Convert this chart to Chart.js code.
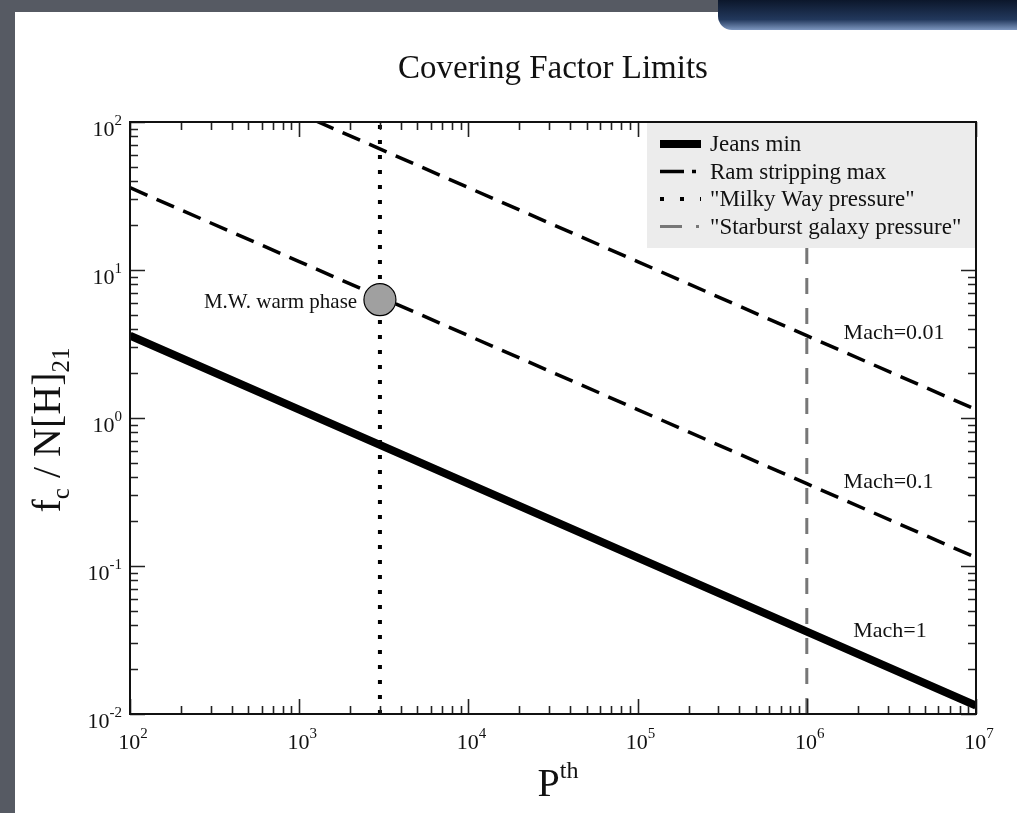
<!DOCTYPE html>
<html lang="en">
<head>
<meta charset="UTF-8">
<title>Covering Factor Limits</title>
<script src="https://cdn.jsdelivr.net/npm/chart.js"></script>
<style>
    html, body { margin: 0; padding: 0; }
    body {
        width: 1017px;
        height: 813px;
        overflow: hidden;
        position: relative;
        background: #565a63;
    }
    .sheet {
        position: absolute;
        left: 15px; top: 12px; right: 0; bottom: 0;
        background: #fff;
    }
    .badge {
        position: absolute;
        left: 718px; top: 0;
        width: 299px; height: 30px;
        border-bottom-left-radius: 14px;
        background: linear-gradient(#0c172b, #22385c 65%, #7d97c0);
    }
    #chart { position: absolute; left: 0; top: 0; }
</style>
</head>
<body>
<div class="sheet"></div>
<div class="badge"></div>
<canvas id="chart" width="1017" height="813"></canvas>

<script>
    // values
    const pressure = [1e2, 1e3, 1e4, 1e5, 1e6, 1e7];
    const jeansMin = [3.6, 1.14, 0.36, 0.114, 0.036, 0.0114];
    const ramMach01 = [36, 11.4, 3.6, 1.14, 0.36, 0.114];
    const ramMach001 = [360, 114, 36, 11.4, 3.6, 1.14];
    const milkyWayP = 3e3;
    const starburstP = 1e6;
    const warmPhase = { x: 3e3, y: 6.3 };
    const xRange = [1e2, 1e7];
    const yRange = [1e-2, 1e2];
    const xExponents = [2, 3, 4, 5, 6, 7];
    const yExponents = [-2, -1, 0, 1, 2];

    const SERIF = "'Liberation Serif', 'Times New Roman', serif";

    function pts(xs, ys) {
        return xs.map((x, i) => ({ x: x, y: ys[i] }));
    }

    // text with sub/superscripts, pieces: [text, size, dy]
    function richText(ctx, pieces, x, y, align) {
        let w = 0;
        pieces.forEach(p => { ctx.font = p[1] + 'px ' + SERIF; w += ctx.measureText(p[0]).width; });
        let cx = align === 'center' ? x - w / 2 : align === 'right' ? x - w : x;
        ctx.textAlign = 'left';
        ctx.textBaseline = 'alphabetic';
        pieces.forEach(p => {
            ctx.font = p[1] + 'px ' + SERIF;
            ctx.fillText(p[0], cx, y + (p[2] || 0));
            cx += ctx.measureText(p[0]).width;
        });
    }

    const legendItems = [
        { text: 'Jeans min', color: '#000', width: 8, dash: [] },
        { text: 'Ram stripping max', color: '#000', width: 3.5, dash: [24, 8, 4, 30] },
        { text: '"Milky Way pressure"', color: '#000', width: 4, dash: [4, 16] },
        { text: '"Starburst galaxy pressure"', color: '#777', width: 3, dash: [22, 14, 3, 30] }
    ];

    const annotations = [
        { text: 'M.W. warm phase', x: 2.2e3, y: 6.0, align: 'right', size: 21 },
        { text: 'Mach=0.01', x: 1.65e6, y: 3.75, align: 'left', size: 22 },
        { text: 'Mach=0.1', x: 1.65e6, y: 0.37, align: 'left', size: 22 },
        { text: 'Mach=1', x: 1.88e6, y: 0.036, align: 'left', size: 22 }
    ];

    const framePlugin = {
        id: 'frame',
        afterDatasetsDraw(chart) {
            const ctx = chart.ctx;
            const a = chart.chartArea;
            const xs = chart.scales.x, ys = chart.scales.y;
            ctx.save();

            // annotations
            ctx.fillStyle = '#111';
            annotations.forEach(n => {
                ctx.font = n.size + 'px ' + SERIF;
                ctx.textAlign = n.align;
                ctx.textBaseline = 'middle';
                ctx.fillText(n.text, xs.getPixelForValue(n.x), ys.getPixelForValue(n.y));
            });

            // inward ticks on all four sides
            ctx.strokeStyle = '#222';
            ctx.lineWidth = 1.6;
            ctx.setLineDash([]);
            ctx.beginPath();
            xExponents.forEach(e => {
                for (let m = 1; m < 10; m++) {
                    const v = m * Math.pow(10, e);
                    if (v > xRange[1]) break;
                    const px = Math.round(xs.getPixelForValue(v)) + 0.5;
                    const len = m === 1 ? 15 : 8;
                    ctx.moveTo(px, a.bottom); ctx.lineTo(px, a.bottom - len);
                    ctx.moveTo(px, a.top); ctx.lineTo(px, a.top + len);
                }
            });
            yExponents.forEach(e => {
                for (let m = 1; m < 10; m++) {
                    const v = m * Math.pow(10, e);
                    if (v > yRange[1]) break;
                    const py = Math.round(ys.getPixelForValue(v)) + 0.5;
                    const len = m === 1 ? 15 : 8;
                    ctx.moveTo(a.left, py); ctx.lineTo(a.left + len, py);
                    ctx.moveTo(a.right, py); ctx.lineTo(a.right - len, py);
                }
            });
            ctx.stroke();

            // legend box
            const lx = 647, ly = a.top, lw = a.right - 647, lh = 126;
            ctx.fillStyle = '#ececec';
            ctx.fillRect(lx, ly, lw, lh);
            legendItems.forEach((it, i) => {
                const y = ly + 22 + i * 27.5;
                ctx.strokeStyle = it.color;
                ctx.lineWidth = it.width;
                ctx.setLineDash(it.dash);
                ctx.beginPath();
                ctx.moveTo(660, y);
                ctx.lineTo(701, y);
                ctx.stroke();
                ctx.fillStyle = '#111';
                ctx.font = '23px ' + SERIF;
                ctx.textAlign = 'left';
                ctx.textBaseline = 'middle';
                ctx.fillText(it.text, 710, y + 1);
            });
            ctx.setLineDash([]);

            // frame
            ctx.strokeStyle = '#111';
            ctx.lineWidth = 2;
            ctx.strokeRect(a.left, a.top, a.right - a.left, a.bottom - a.top);

            // tick labels
            ctx.fillStyle = '#111';
            xExponents.forEach(e => {
                const px = xs.getPixelForValue(Math.pow(10, e));
                richText(ctx, [['10', 22], [String(e), 15, -11]], px + 3, a.bottom + 35, 'center');
            });
            yExponents.forEach(e => {
                const py = ys.getPixelForValue(Math.pow(10, e));
                richText(ctx, [['10', 22], [String(e), 15, -11]], a.left - 8, py + 14, 'right');
            });

            // title
            ctx.font = '33px ' + SERIF;
            ctx.textAlign = 'center';
            ctx.textBaseline = 'alphabetic';
            ctx.fillText('Covering Factor Limits', 553, 78);

            // axis titles
            richText(ctx, [['P', 40], ['th', 24, -18]], 558, 796, 'center');
            ctx.translate(60, 430);
            ctx.rotate(-Math.PI / 2);
            richText(ctx, [['f', 40], ['c', 25, 9], [' / N[H]', 40], ['21', 25, 9]], 0, 0, 'center');

            ctx.restore();
        }
    };

    const ctx = document.getElementById('chart').getContext('2d');
    const lineStyle = { showLine: true, pointRadius: 0, borderColor: '#000', borderCapStyle: 'butt', order: 1 };

    const myChart = new Chart(ctx, {
        type: 'scatter',
        data: {
            datasets: [
                {
                    label: 'M.W. warm phase',
                    data: [warmPhase],
                    pointRadius: 16,
                    pointHoverRadius: 16,
                    backgroundColor: '#a0a0a0',
                    borderColor: '#000',
                    borderWidth: 1.2,
                    order: 0
                },
                Object.assign({ label: 'Jeans min', data: pts(pressure, jeansMin), borderWidth: 8 }, lineStyle),
                Object.assign({ label: 'Ram stripping max', data: pts(pressure, ramMach01), borderWidth: 3.5, borderDash: [19, 10] }, lineStyle),
                Object.assign({ label: 'Ram stripping max 0.01', data: pts(pressure, ramMach001), borderWidth: 3.5, borderDash: [19, 10] }, lineStyle),
                Object.assign({ label: 'Milky Way pressure', data: pts([milkyWayP, milkyWayP], yRange), borderWidth: 4, borderDash: [4, 11] }, lineStyle),
                Object.assign({}, lineStyle, { label: 'Starburst galaxy pressure', data: pts([starburstP, starburstP], yRange), borderWidth: 3, borderDash: [16, 14], borderColor: '#777' })
            ]
        },
        options: {
            responsive: false,
            animation: false,
            events: [],
            layout: { padding: { left: 130, top: 122, right: 41, bottom: 99 } },
            scales: {
                x: {
                    type: 'logarithmic',
                    min: xRange[0], max: xRange[1],
                    ticks: { display: false },
                    grid: { display: false },
                    border: { display: false },
                    afterFit: s => { s.height = 0; }
                },
                y: {
                    type: 'logarithmic',
                    min: yRange[0], max: yRange[1],
                    ticks: { display: false },
                    grid: { display: false },
                    border: { display: false },
                    afterFit: s => { s.width = 0; }
                }
            },
            plugins: {
                legend: { display: false },
                tooltip: { enabled: false }
            }
        },
        plugins: [framePlugin]
    });
</script>
</body>
</html>
